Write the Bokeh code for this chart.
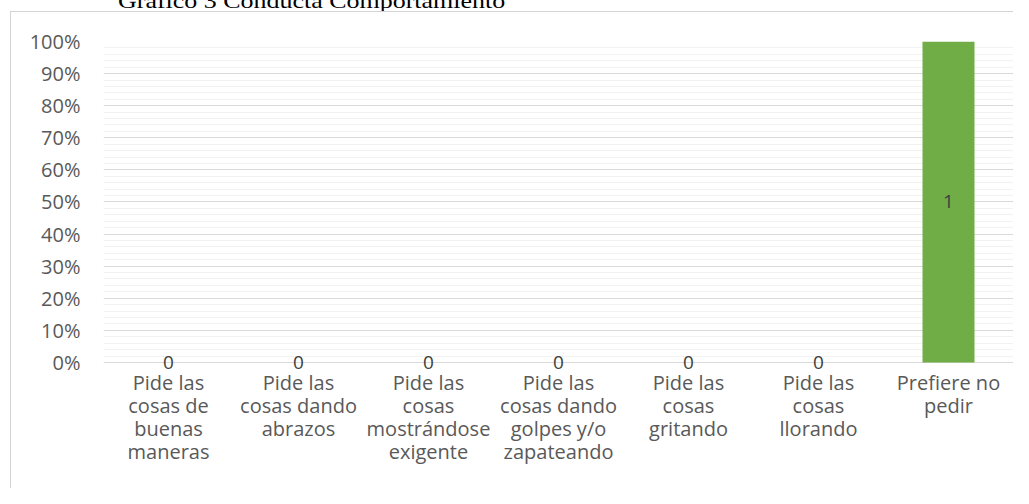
from bokeh.plotting import figure
from bokeh.layouts import column
from bokeh.models import (Range1d, FixedTicker, NumeralTickFormatter,
                          ColumnDataSource, LabelSet, Div)
from bokeh.core.properties import value
from bokeh.embed import file_html
from bokeh.resources import INLINE

title_text = "Gráfico 3 Conducta Comportamiento"
categories = [
    "Pide las\ncosas de\nbuenas\nmaneras",
    "Pide las\ncosas dando\nabrazos",
    "Pide las\ncosas\nmostrándose\nexigente",
    "Pide las\ncosas dando\ngolpes y/o\nzapateando",
    "Pide las\ncosas\ngritando",
    "Pide las\ncosas\nllorando",
    "Prefiere no\npedir",
]
values = [0, 0, 0, 0, 0, 0, 1]
data_labels = ["0", "0", "0", "0", "0", "0", "1"]
y_ticks = [0.0, 0.1, 0.2, 0.3, 0.4, 0.5, 0.6, 0.7, 0.8, 0.9, 1.0]

FONT = "Open Sans"
TXT = "#595959"
GRID = "#d9d9d9"

src = ColumnDataSource(dict(
    cat=categories,
    val=values,
    mid=[v / 2 for v in values],
    lab=data_labels,
))

# title strip above the chart box (text partly cut off at the top, as in the reference)
title_div = Div(
    text=('<div style="position:absolute; left:118px; top:-10px; '
          'font-family:\'Liberation Serif\'; font-size:22px; line-height:22px; '
          'white-space:nowrap; color:black; transform:scaleX(1.18); '
          'transform-origin:0 0;">' + title_text + '</div>'),
    width=1013, height=11, margin=0,
    styles={"position": "relative", "overflow": "hidden", "background-color": "white"},
)

p = figure(x_range=categories, y_range=Range1d(-0.022, 1),
           width=1013, height=477, output_backend="svg",
           toolbar_location=None, margin=0,
           min_border_left=103, min_border_right=0,
           min_border_top=30, min_border_bottom=119)
p.styles = {
    "background-color": "white",
    "background-image": "linear-gradient(#d4d4d4, #d4d4d4), linear-gradient(#d4d4d4, #d4d4d4)",
    "background-size": "100% 1px, 1px 100%",
    "background-position": "10px 0px, 10px 0px",
    "background-repeat": "no-repeat",
}
p.title = None
p.outline_line_color = None
p.background_fill_color = "white"
p.border_fill_color = None

p.vbar(x="cat", top="val", width=0.4, source=src,
       fill_color="#70ad47", line_color=None)

p.add_layout(LabelSet(x="cat", y="mid", text="lab", source=src,
                      text_align="center", text_baseline="middle",
                      text_font=value(FONT), text_font_size="19px",
                      text_color="#404040"))

# y axis
minor = [i / 50 for i in range(51) if i % 5]
p.yaxis.ticker = FixedTicker(ticks=y_ticks, minor_ticks=minor)
p.yaxis.formatter = NumeralTickFormatter(format="0%")
p.yaxis.axis_line_color = None
p.yaxis.major_tick_line_color = None
p.yaxis.minor_tick_line_color = None
p.yaxis.major_tick_out = 0
p.yaxis.major_tick_in = 0
p.yaxis.minor_tick_out = 0
p.yaxis.major_label_standoff = 23
p.yaxis.major_label_text_font = FONT
p.yaxis.major_label_text_font_size = "20px"
p.yaxis.major_label_text_color = TXT

p.ygrid.grid_line_color = GRID
p.ygrid.minor_grid_line_color = "#f2f2f2"
p.xgrid.grid_line_color = None

# x axis (the 0% grid line acts as the axis line)
p.xaxis.axis_line_color = None
p.xaxis.major_tick_line_color = None
p.xaxis.minor_tick_line_color = None
p.xaxis.major_tick_out = 0
p.xaxis.major_tick_in = 0
p.xaxis.major_label_standoff = -1
p.xaxis.major_label_text_font = FONT
p.xaxis.major_label_text_font_size = "20px"
p.xaxis.major_label_text_color = TXT
p.xaxis.major_label_text_line_height = 0.855

layout = column(title_div, p, spacing=0, margin=0)

open("out.html", "w").write(file_html(layout, INLINE))
